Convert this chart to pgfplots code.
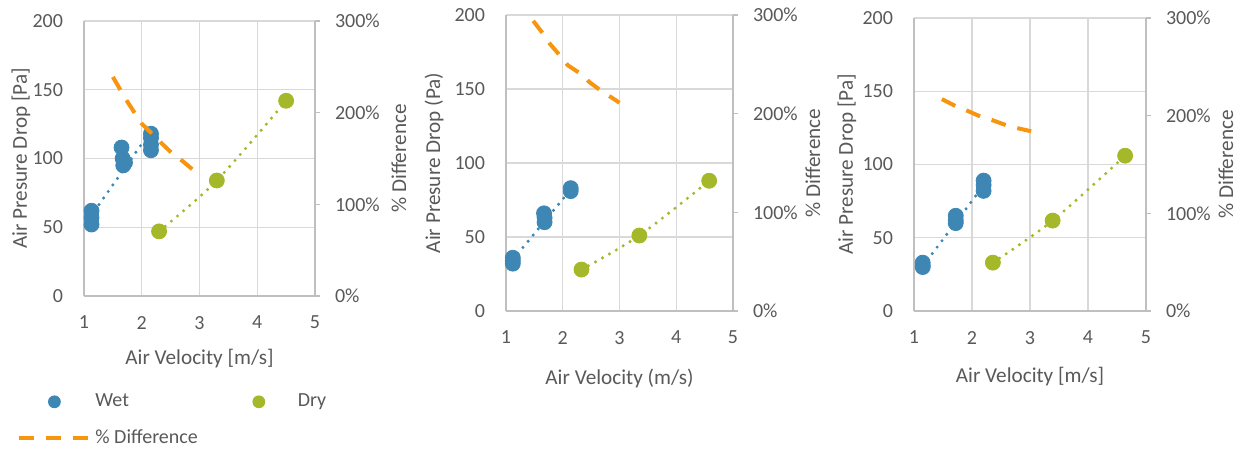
\documentclass[border=0pt]{standalone}
\usepackage{fontspec}
\setmainfont{Carlito}
\usepackage{pgfplots}
\pgfplotsset{compat=1.18}
\definecolor{wetc}{HTML}{3E87B5}
\definecolor{dryc}{HTML}{A5B82A}
\definecolor{difc}{HTML}{F7950F}
\definecolor{txt}{HTML}{595959}
\definecolor{gridc}{HTML}{D9D9D9}
\definecolor{axc}{HTML}{BFBFBF}
\newcommand{\fs}{\fontsize{10}{12}\selectfont}
\newcommand{\fl}{\fontsize{10.6}{12}\selectfont}
\pgfplotsset{
  prim/.style={scale only axis, anchor=south west, clip=false,
    xmin=1, xmax=5, ymin=0, ymax=200,
    xtick={1,2,3,4,5}, ytick={0,50,100,150,200},
    axis x line=bottom, axis y line=left,
    axis line style={draw=axc, line width=0.6pt, -},
    grid=major, grid style={draw=gridc, line width=0.6pt},
    major tick length=0pt,
    /pgf/number format/assume math mode=true,
    tick label style={font=\fs, text=txt},
    xticklabel style={yshift=-6.5pt},
    yticklabel style={xshift=-7pt},
    label style={font=\fl, text=txt},
    xlabel style={at={(axis description cs:0.5,0)}, anchor=center},
    ylabel style={at={(axis description cs:0,0.5)}, anchor=center},
  },
  sec/.style={scale only axis, anchor=south west,
    xmin=1, xmax=5, ymin=0, ymax=300,
    axis x line=none, axis y line*=right,
    axis line style={draw=axc, line width=0.6pt, -},
    ytick={0,100,200,300}, yticklabels={0\%,100\%,200\%,300\%},
    tick align=outside, major tick length=2.5pt,
    tick style={draw=axc, line width=0.6pt},
    tick label style={font=\fs, text=txt},
    yticklabel style={xshift=4pt},
    label style={font=\fl, text=txt},
    ylabel={\% Difference},
    ylabel style={at={(axis description cs:1,0.5)}, anchor=center},
  },
  wetm/.style={draw=none, mark=*, mark size=3.75pt, mark options={draw=wetc, fill=wetc}},
  drym/.style={draw=none, mark=*, mark size=3.75pt, mark options={draw=dryc, fill=dryc}},
  trend/.style={line width=1.7pt, line cap=round, dash pattern=on 0pt off 4pt, forget plot},
  diffl/.style={difc, line width=2pt, dash pattern=on 7.5pt off 6pt},
}
\begin{document}
\begin{tikzpicture}
\path[use as bounding box] (0,0) rectangle (621pt,225pt);

% ---------- Panel 1 ----------
\begin{axis}[prim, at={(42pt,77pt)}, width=115.5pt, height=137.5pt,
  xlabel={Air Velocity [m/s]}, ylabel={Air Presure Drop [Pa]},
  xlabel style={yshift=-31.5pt}, ylabel style={yshift=31.5pt},
  legend columns=2, legend cell align=left,
  legend style={at={(axis description cs:-0.29,-0.34)}, anchor=north west,
    draw=none, fill=none, inner sep=0pt, row sep=6pt, font=\fs, text=txt,
    /tikz/every even column/.append style={column sep=11pt}}]
\addplot[wetc, trend] coordinates {(1.1,57) (2.15,119.5)};
\addplot[dryc, trend, smooth] coordinates {(2.3,47) (3.3,84) (4.5,142)};
\addplot[wetm, legend image code/.code={\path[draw=none,fill=none] (0pt,-1pt) rectangle (35pt,1pt); \fill[wetc] (17.5pt,0pt) circle[radius=3.2pt];}]
  coordinates {(1.13,62) (1.13,57) (1.13,52) (1.65,108) (1.67,100) (1.71,97) (1.68,95)
               (2.16,118) (2.16,115) (2.16,110) (2.16,106)};
\addlegendentry{Wet}
\addplot[drym, legend image code/.code={\path[draw=none,fill=none] (0pt,-1pt) rectangle (35pt,1pt); \fill[dryc] (17.5pt,0pt) circle[radius=3.2pt];}]
  coordinates {(2.3,47) (3.3,84) (4.5,142)};
\addlegendentry{Dry}
\addlegendimage{legend image code/.code={\draw[difc, line width=2pt, dash pattern=on 7.5pt off 6pt] (0pt,0pt) -- (35pt,0pt);}}
\addlegendentry{\% Difference}
\end{axis}
\begin{axis}[sec, at={(42pt,77pt)}, width=115.5pt, height=137.5pt, ylabel style={yshift=-42pt}]
\addplot[diffl] coordinates {(1.5,239) (1.73,214) (2.0,188) (2.18,177) (2.32,168) (2.52,156) (2.71,147) (2.9,137)};
\end{axis}

% ---------- Panel 2 ----------
\begin{axis}[prim, at={(253pt,69.5pt)}, width=113.5pt, height=148pt,
  xlabel={Air Velocity (m/s)}, ylabel={Air Presure Drop (Pa)},
  xlabel style={yshift=-33.5pt}, ylabel style={yshift=36pt}]
\addplot[wetc, trend] coordinates {(1.12,34.6) (2.15,82.5)};
\addplot[dryc, trend, smooth] coordinates {(2.33,28) (3.35,51) (4.58,88)};
\addplot[wetm] coordinates {(1.12,36) (1.12,34) (1.12,32) (1.67,66) (1.68,63) (1.68,60) (2.14,83) (2.14,81)};
\addplot[drym] coordinates {(2.33,28) (3.35,51) (4.58,88)};
\end{axis}
\begin{axis}[sec, at={(253pt,69.5pt)}, width=113.5pt, height=148pt, ylabel style={yshift=-40pt}]
\addplot[diffl] coordinates {(1.48,294) (1.64,282) (1.77,271) (1.92,261) (2.09,249) (2.30,241) (2.47,232) (2.68,223) (2.87,216) (3.0,211)};
\end{axis}

% ---------- Panel 3 ----------
\begin{axis}[prim, at={(457pt,69.5pt)}, width=116pt, height=146.5pt,
  xlabel={Air Velocity [m/s]}, ylabel={Air Presure Drop [Pa]},
  xlabel style={yshift=-33pt}, ylabel style={yshift=33.5pt}]
\addplot[wetc, trend] coordinates {(1.15,30.5) (2.2,85.7)};
\addplot[dryc, trend, smooth] coordinates {(2.36,33) (3.39,61.7) (4.64,106)};
\addplot[wetm] coordinates {(1.15,33) (1.15,31) (1.15,30) (1.72,65) (1.72,62) (1.72,60) (2.2,89) (2.2,86) (2.2,82)};
\addplot[drym] coordinates {(2.36,33) (3.39,61.7) (4.64,106)};
\end{axis}
\begin{axis}[sec, at={(457pt,69.5pt)}, width=116pt, height=146.5pt, ylabel style={yshift=-40pt}]
\addplot[diffl] coordinates {(1.48,217) (1.71,210) (1.92,205) (2.15,199) (2.37,195) (2.6,190) (2.8,187) (3.02,184)};
\end{axis}
\end{tikzpicture}
\end{document}
